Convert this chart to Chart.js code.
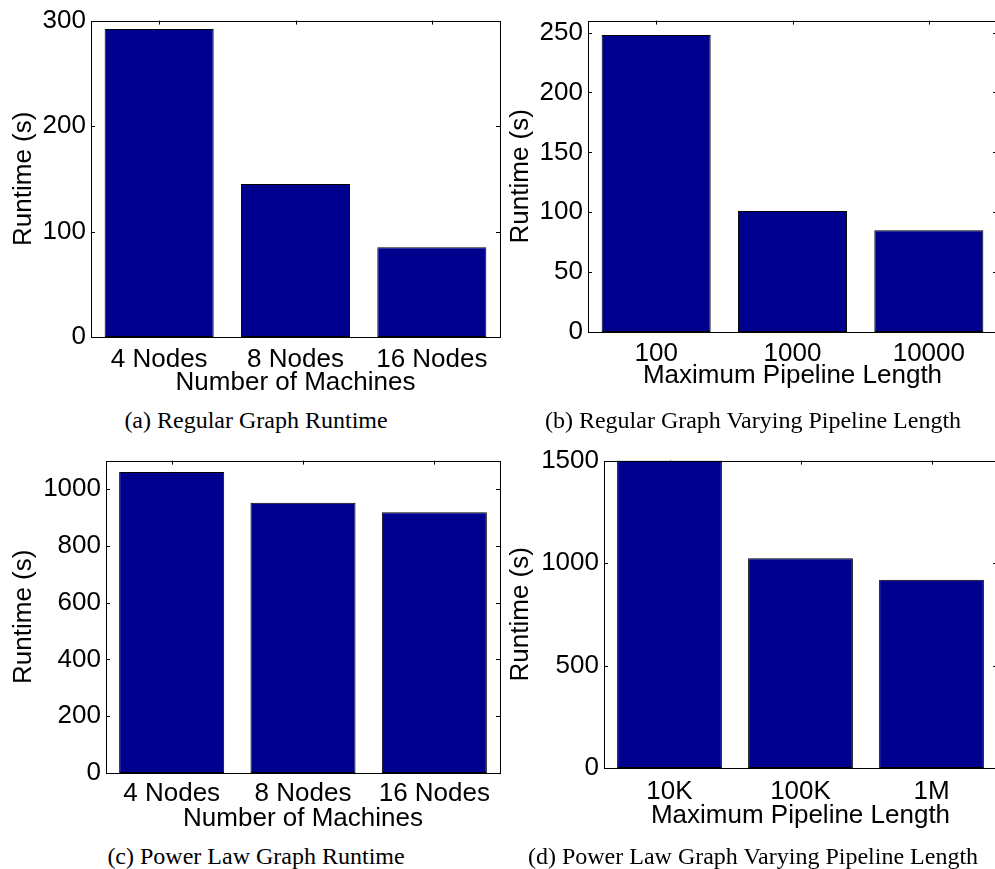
<!DOCTYPE html>
<html>
<head>
<meta charset="utf-8">
<script src="https://cdn.jsdelivr.net/npm/chart.js@4.4.0/dist/chart.umd.min.js"></script>
<style>
  html, body { margin: 0; padding: 0; background: #fff; overflow: hidden; }
  #page { position: relative; width: 995px; height: 869px; overflow: hidden; background: #fff; }
  #page canvas { position: absolute; }
  .cap {
    position: absolute;
    font-family: "Liberation Serif", "Times New Roman", serif;
    font-size: 24px;
    line-height: 1;
    color: #000;
    white-space: nowrap;
    transform: translate(-50%, -50%);
  }
</style>
</head>
<body>
<div id="page">
  <canvas id="chartA" width="502" height="400" style="left:0px;top:0px"></canvas>
  <canvas id="chartB" width="502" height="400" style="left:495px;top:0px"></canvas>
  <canvas id="chartC" width="502" height="400" style="left:0px;top:440px"></canvas>
  <canvas id="chartD" width="502" height="400" style="left:495px;top:440px"></canvas>
  <div class="cap" style="left:256px;top:420px">(a) Regular Graph Runtime</div>
  <div class="cap" style="left:753px;top:420px">(b) Regular Graph Varying Pipeline Length</div>
  <div class="cap" style="left:256px;top:856px">(c) Power Law Graph Runtime</div>
  <div class="cap" style="left:753px;top:856px">(d) Power Law Graph Varying Pipeline Length</div>
</div>
<script>
// Categories
const machineLabels = ['4 Nodes', '8 Nodes', '16 Nodes'];
const regularPipelineLabels = ['100', '1000', '10000'];
const powerPipelineLabels = ['10K', '100K', '1M'];

// Runtime in seconds
const regularRuntime = [292, 145, 85];
const regularPipelineRuntime = [248, 101, 85];
const powerLawRuntime = [1060, 952, 918];
const powerPipelineRuntime = [1500, 1023, 918];

// Y tick values and axis limits
const regularTicks = [0, 100, 200, 300];
const regularPipelineTicks = [0, 50, 100, 150, 200, 250];
const powerLawTicks = [0, 200, 400, 600, 800, 1000];
const powerPipelineTicks = [0, 500, 1000, 1500];
const regularMax = 300;
const regularPipelineMax = 260;
const powerLawMax = 1100;
const powerPipelineMax = 1500;

const BAR_FILL = 'rgb(0,0,143)';
const FONT = '"Liberation Sans", Arial, Helvetica, sans-serif';
const FONT_SIZE = 26;
const TICK_LEN = 4;

// Boxed axes with short inward ticks on all four sides
const boxAxes = {
  id: 'boxAxes',
  beforeDatasetsDraw(chart) {
    const { ctx, chartArea: a, scales: { x, y } } = chart;
    ctx.save();
    ctx.strokeStyle = '#000';
    ctx.lineWidth = 1;
    ctx.beginPath();
    x.ticks.forEach((t, i) => {
      const px = Math.round(x.getPixelForTick(i)) + 0.5;
      ctx.moveTo(px, a.top); ctx.lineTo(px, a.top + TICK_LEN);
      ctx.moveTo(px, a.bottom); ctx.lineTo(px, a.bottom - TICK_LEN);
    });
    y.ticks.forEach((t, i) => {
      const py = Math.round(y.getPixelForTick(i)) + 0.5;
      ctx.moveTo(a.left, py); ctx.lineTo(a.left + TICK_LEN, py);
      ctx.moveTo(a.right, py); ctx.lineTo(a.right - TICK_LEN, py);
    });
    ctx.stroke();
    ctx.restore();
  },
  afterDatasetsDraw(chart) {
    const { ctx, chartArea: a } = chart;
    ctx.save();
    ctx.strokeStyle = '#000';
    ctx.lineWidth = 1;
    const l = Math.round(a.left) + 0.5, t = Math.round(a.top) + 0.5;
    const r = Math.round(a.right) + 0.5, b = Math.round(a.bottom) + 0.5;
    ctx.strokeRect(l, t, r - l, b - t);
    ctx.restore();
  }
};

function makePanel(id, labels, values, tickValues, yMax, xTitle, g) {
  new Chart(document.getElementById(id), {
    type: 'bar',
    data: {
      labels: labels,
      datasets: [{
        data: values,
        backgroundColor: BAR_FILL,
        borderColor: '#000',
        borderWidth: 1,
        borderSkipped: false,
        barPercentage: 0.8,
        categoryPercentage: 1.0
      }]
    },
    options: {
      responsive: false,
      animation: false,
      devicePixelRatio: 1,
      layout: { padding: { top: g.padTop, right: g.padRight, bottom: 0, left: 0 } },
      plugins: { legend: { display: false }, tooltip: { enabled: false }, title: { display: false } },
      scales: {
        x: {
          grid: { display: false, drawTicks: false },
          border: { display: false },
          ticks: { color: '#000', font: { family: FONT, size: FONT_SIZE }, padding: g.xTickPad, maxRotation: 0, autoSkip: false },
          title: { display: true, text: xTitle, color: '#000', font: { family: FONT, size: FONT_SIZE }, padding: { top: 0, bottom: g.xTitlePad } },
          afterFit(scale) { scale.height = g.xHeight; }
        },
        y: {
          min: 0,
          max: yMax,
          grid: { display: false, drawTicks: false },
          border: { display: false },
          ticks: { color: '#000', font: { family: FONT, size: FONT_SIZE }, padding: 5, callback: v => String(v) },
          title: { display: true, text: 'Runtime (s)', color: '#000', font: { family: FONT, size: FONT_SIZE }, padding: { top: g.yTitlePad, bottom: 0 } },
          afterBuildTicks(scale) { scale.ticks = tickValues.map(v => ({ value: v })); },
          afterFit(scale) { scale.width = g.yWidth; }
        }
      }
    },
    plugins: [boxAxes]
  });
}

makePanel('chartA', machineLabels, regularRuntime, regularTicks, regularMax, 'Number of Machines',
  { yWidth: 91, xHeight: 63, padTop: 17, padRight: 2, yTitlePad: 8, xTickPad: 7, xTitlePad: 2 });
makePanel('chartB', regularPipelineLabels, regularPipelineRuntime, regularPipelineTicks, regularPipelineMax, 'Maximum Pipeline Length',
  { yWidth: 93, xHeight: 68, padTop: 13, padRight: 0, yTitlePad: 10, xTickPad: 6, xTitlePad: 9 });
makePanel('chartC', machineLabels, powerLawRuntime, powerLawTicks, powerLawMax, 'Number of Machines',
  { yWidth: 106, xHeight: 67, padTop: 15, padRight: 2, yTitlePad: 8, xTickPad: 5, xTitlePad: 6 });
makePanel('chartD', powerPipelineLabels, powerPipelineRuntime, powerPipelineTicks, powerPipelineMax, 'Maximum Pipeline Length',
  { yWidth: 109, xHeight: 72, padTop: 9, padRight: 0, yTitlePad: 10, xTickPad: 8, xTitlePad: 9 });
</script>
</body>
</html>
